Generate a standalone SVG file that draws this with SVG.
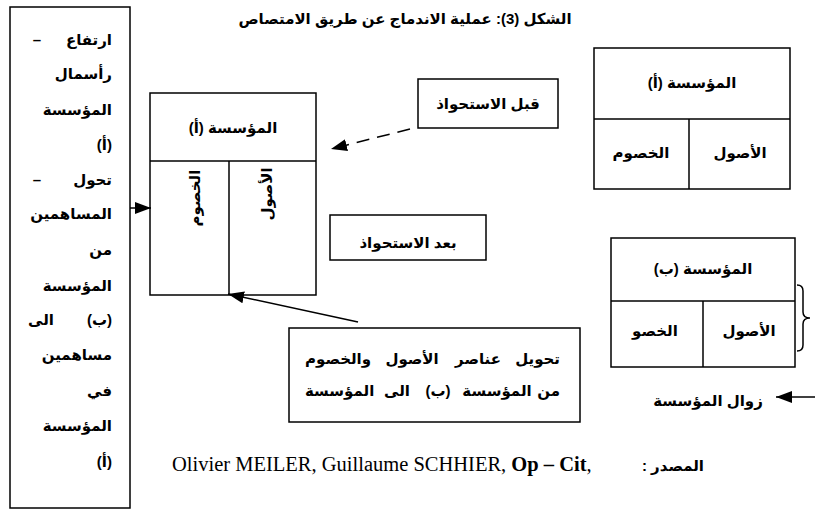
<svg xmlns="http://www.w3.org/2000/svg" width="815" height="510" viewBox="0 0 815 510">
<style>
.box{fill:#fff;stroke:#000;stroke-width:1.5}
.ln{stroke:#000;stroke-width:1.5;fill:none}
.ar{font-family:"Liberation Sans","DejaVu Sans",sans-serif;font-weight:bold;font-size:15px;fill:#000;direction:rtl}
.lt{font-family:"Liberation Sans","DejaVu Sans",sans-serif;font-weight:bold;font-size:15px;fill:#000}
.m{text-anchor:middle}
.r{text-anchor:start}
.l{text-anchor:end}
.src{font-family:"Liberation Serif","Times New Roman",serif;font-size:20.5px;fill:#000}
</style>
<defs>
<marker id="ah" viewBox="0 0 16 12" refX="16" refY="6" markerWidth="16" markerHeight="12" markerUnits="userSpaceOnUse" orient="auto"><path d="M0,0 L16,6 L0,12 z" fill="#000"/></marker>
</defs>
<rect width="815" height="510" fill="#fff"/>
<text class="ar m" x="405" y="24" font-size="17.5">الشكل (3): عملية الاندماج عن طريق الامتصاص</text>

<g id="left-box">
<rect class="box" x="10" y="7" width="120" height="501"/>
<text class="lt m" x="37" y="45">–</text>
<text class="ar r" x="112" y="45">ارتفاع</text>
<text class="ar r" x="112" y="79">رأسمال</text>
<text class="ar r" x="112" y="115">المؤسسة</text>
<text class="ar r" x="112" y="150">(أ)</text>
<text class="lt m" x="37" y="185">–</text>
<text class="ar r" x="112" y="185">تحول</text>
<text class="ar r" x="112" y="219">المساهمين</text>
<text class="ar r" x="112" y="255">من</text>
<text class="ar r" x="112" y="291">المؤسسة</text>
<text class="ar r" x="112" y="325">(ب)</text>
<text class="ar l" x="28" y="325">الى</text>
<text class="ar r" x="112" y="360">مساهمين</text>
<text class="ar r" x="112" y="396">في</text>
<text class="ar r" x="112" y="431">المؤسسة</text>
<text class="ar r" x="112" y="467">(أ)</text>
</g>

<g id="firm-a-after">
<rect class="box" x="150" y="93" width="166" height="202"/>
<line class="ln" x1="150" y1="161" x2="316" y2="161"/>
<line class="ln" x1="229" y1="161" x2="229" y2="295"/>
<text class="ar m" x="233" y="133">المؤسسة (أ)</text>
<text class="ar m" transform="translate(200,198) rotate(-90)">الخصوم</text>
<text class="ar m" transform="translate(272,194) rotate(-90)">الأصول</text>
</g>

<g id="before">
<rect class="box" x="418" y="79" width="140" height="49"/>
<text class="ar m" x="488" y="109" font-size="16">قبل الاستحواذ</text>
</g>

<g id="after">
<rect class="box" x="330" y="215" width="156" height="45"/>
<text class="ar m" x="408" y="248">بعد الاستحواذ</text>
</g>

<g id="transfer">
<rect class="box" x="289" y="328" width="291" height="94"/>
<text class="ar r" x="560" y="364" font-size="16">تحويل</text>
<text class="ar m" x="478" y="364" font-size="16">عناصر</text>
<text class="ar m" x="412" y="364" font-size="16">الأصول</text>
<text class="ar l" x="305" y="364" font-size="16">والخصوم</text>
<text class="ar r" x="560" y="396" font-size="16">من</text>
<text class="ar m" x="497" y="396" font-size="16">المؤسسة</text>
<text class="ar m" x="438" y="396" font-size="16">(ب)</text>
<text class="ar m" x="397" y="396" font-size="16">الى</text>
<text class="ar l" x="305" y="396" font-size="16">المؤسسة</text>
</g>

<g id="firm-a">
<rect class="box" x="594" y="48" width="196" height="141"/>
<line class="ln" x1="594" y1="119" x2="790" y2="119"/>
<line class="ln" x1="689" y1="119" x2="689" y2="189"/>
<text class="ar m" x="692" y="88">المؤسسة (أ)</text>
<text class="ar m" x="641" y="158">الخصوم</text>
<text class="ar m" x="740" y="158">الأصول</text>
</g>

<g id="firm-b">
<rect class="box" x="611" y="238" width="184" height="129"/>
<line class="ln" x1="611" y1="301" x2="795" y2="301"/>
<line class="ln" x1="703" y1="301" x2="703" y2="367"/>
<text class="ar m" x="703" y="274">المؤسسة (ب)</text>
<text class="ar m" x="655" y="336">الخصو</text>
<text class="ar m" x="749" y="336">الأصول</text>
<path class="ln" d="M797,285 Q803,285 803,291 L803,312 Q803,318 810,318 Q803,318 803,324 L803,345 Q803,351 797,351"/>
</g>

<g id="disappear">
<text class="ar m" x="708" y="406">زوال المؤسسة</text>
</g>

<g id="connectors">
<line class="ln" x1="130" y1="208" x2="151" y2="208" marker-end="url(#ah)"/>
<line class="ln" x1="410" y1="129" x2="331" y2="149" stroke-dasharray="13,8" marker-end="url(#ah)"/>
<line class="ln" x1="358" y1="322" x2="228" y2="294" marker-end="url(#ah)"/>
<line class="ln" x1="815" y1="397" x2="776" y2="397" marker-end="url(#ah)"/>
</g>

<g id="source">
<text class="src" x="172" y="471">Olivier MEILER, Guillaume SCHHIER, <tspan font-weight="bold">Op – Cit</tspan>,</text>
<text class="ar r" x="704" y="471">المصدر :</text>
</g>
</svg>
